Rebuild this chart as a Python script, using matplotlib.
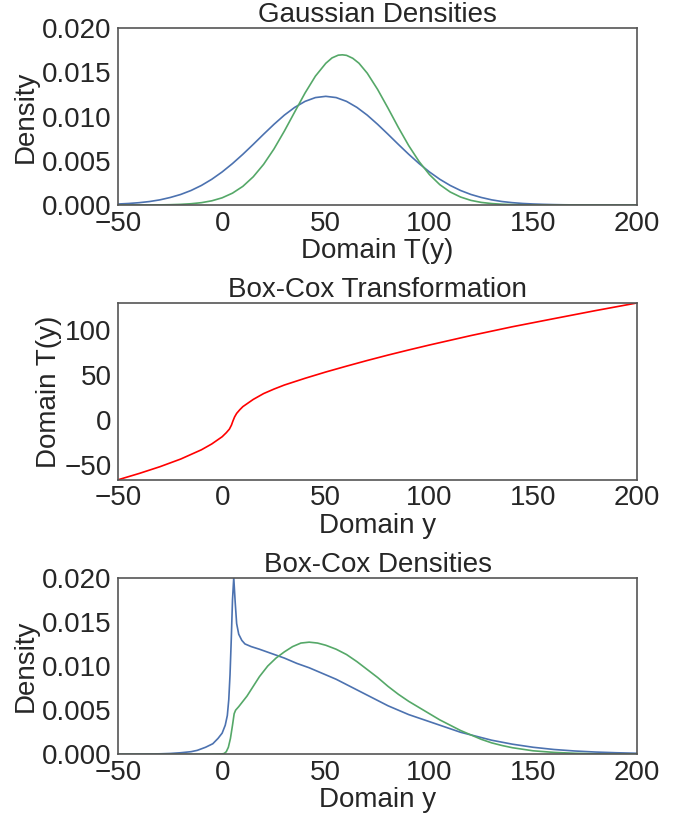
import matplotlib
matplotlib.use("Agg")
import matplotlib.pyplot as plt

# top panel: Gaussian densities in the transformed domain T(y)
t_grid = [-50, -45, -40, -35, -30, -25, -20, -15, -10, -5, 0, 5, 10, 15, 20,
          25, 30, 35, 40, 45, 50, 55, 60, 65, 70, 75, 80, 85, 90, 95, 100,
          105, 110, 115, 120, 125, 130, 135, 140, 145, 150, 155, 160, 165,
          170, 175, 180, 185, 190, 195, 200]
gauss_blue = [0.00011, 0.00017, 0.00026, 0.00039, 0.00058, 0.00085, 0.00119,
              0.00164, 0.00221, 0.00291, 0.00374, 0.00469, 0.00574, 0.00686,
              0.00801, 0.00913, 0.01017, 0.01105, 0.01173, 0.01216, 0.0123,
              0.01216, 0.01173, 0.01105, 0.01017, 0.00913, 0.00801, 0.00686,
              0.00574, 0.00469, 0.00374, 0.00291, 0.00221, 0.00164, 0.00119,
              0.00085, 0.00058, 0.00039, 0.00026, 0.00017, 0.00011, 0.00007,
              0.00004, 0.00002, 0.00001, 0.0, 0.0, 0.0, 0.0, 0.0, 0.0]
t_green = [-50, -35, -30, -25, -20, -15, -10, -5, 0, 5, 10, 15, 20, 25, 30,
           35, 40, 45, 50, 53, 56, 58, 60, 63, 66, 70, 75, 80, 85, 90, 95,
           100, 105, 110, 115, 120, 125, 130, 135, 140, 145, 150, 155, 200]
gauss_green = [0.0, 0.0, 0.00001, 0.00003, 0.00007, 0.00014, 0.00026, 0.00047,
               0.00081, 0.00134, 0.00211, 0.00319, 0.0046, 0.00634, 0.00836,
               0.01053, 0.01268, 0.01459, 0.01604, 0.01665, 0.01696, 0.0170,
               0.01694, 0.01661, 0.01605, 0.01492, 0.01308, 0.01097, 0.00878,
               0.00672, 0.00492, 0.00344, 0.0023, 0.00147, 0.0009, 0.00052,
               0.00029, 0.00016, 0.00008, 0.00004, 0.00002, 0.00001, 0.0, 0.0]

# middle panel: the Box-Cox style warping T(y)
y_warp = [-50, -40, -30, -20, -10, -5, 0, 2, 3.5, 4.5, 5.2, 6, 7, 8.5, 10,
          15, 20, 25, 30, 40, 50, 60, 70, 80, 90, 100, 120, 140, 160, 180, 200]
t_warp = [-66.7, -59.8, -52.3, -43.8, -33.5, -27.0, -19.0, -14.5, -10.5,
          -6.0, -1.5, 3.0, 7.0, 11.0, 14.5, 22.5, 29.0, 34.0, 38.5, 46.0,
          53.0, 59.5, 65.8, 71.8, 77.5, 83.0, 93.5, 103.3, 112.3, 121.2, 129.7]

# bottom panel: the same densities pulled back to the original domain y
y_blue = [-50, -40, -30, -25, -20, -15, -12, -8, -4.5, -2, 0, 1.5, 2.5, 3.2,
          3.8, 4.4, 5.0, 5.6, 6.3, 7.0, 8.0, 9.5, 11, 14, 18, 24, 30, 36, 42,
          50, 55, 60, 65, 70, 75, 80, 85, 90, 95, 100, 105, 110, 115, 120,
          130, 140, 150, 160, 170, 180, 190, 200]
dens_blue = [0.00001, 0.00002, 0.00006, 0.0001, 0.00018, 0.0003, 0.00045,
             0.0008, 0.0012, 0.0018, 0.0024, 0.0033, 0.0044, 0.0062, 0.009,
             0.013, 0.0175, 0.02, 0.0172, 0.0148, 0.0136, 0.0129, 0.0125,
             0.0122, 0.0119, 0.0114, 0.0109, 0.0103, 0.0098, 0.009, 0.0085,
             0.0079, 0.0073, 0.0067, 0.0061, 0.0055, 0.005, 0.0045, 0.0041,
             0.0037, 0.0033, 0.0029, 0.0025, 0.0022, 0.0016, 0.00115,
             0.0008, 0.00055, 0.00038, 0.00026, 0.00018, 0.00012]
y_green = [-50, -20, -10, -5, 0, 1, 2, 3, 4, 5, 5.8, 6.5, 8, 10, 12, 15, 18,
           22, 26, 30, 34, 38, 42, 46, 50, 55, 60, 65, 70, 75, 80, 85, 90, 95,
           100, 105, 110, 115, 120, 125, 130, 135, 140, 150, 160, 170, 180,
           190, 200]
dens_green = [0.0, 0.0, 0.0, 0.00001, 0.00005, 0.0001, 0.0003, 0.0008, 0.0018,
              0.0033, 0.0046, 0.005, 0.0054, 0.006, 0.0066, 0.0077, 0.0088,
              0.01, 0.0109, 0.0116, 0.0122, 0.0126, 0.0127, 0.0126, 0.01235,
              0.0119, 0.0113, 0.0105, 0.0096, 0.0087, 0.0077, 0.0068, 0.006,
              0.0053, 0.0046, 0.0039, 0.0033, 0.0027, 0.0022, 0.0017, 0.0013,
              0.001, 0.00075, 0.0004, 0.00022, 0.00012, 0.00006, 0.00003,
              0.00002]

x_ticks = [-50, 0, 50, 100, 150, 200]
dens_ticks = [0.000, 0.005, 0.010, 0.015, 0.020]
warp_ticks = [-50, 0, 50, 100]

BLUE = "#4C72B0"
GREEN = "#55A868"
TEXT = "#262626"

plt.rcParams["font.family"] = ["Liberation Sans", "DejaVu Sans"]
plt.rcParams["font.size"] = 20
plt.rcParams["axes.titlesize"] = 20
plt.rcParams["axes.labelsize"] = 20
plt.rcParams["text.color"] = TEXT
plt.rcParams["axes.labelcolor"] = TEXT
plt.rcParams["xtick.color"] = TEXT
plt.rcParams["ytick.color"] = TEXT
plt.rcParams["xtick.major.size"] = 0
plt.rcParams["ytick.major.size"] = 0
plt.rcParams["xtick.major.pad"] = 4
plt.rcParams["ytick.major.pad"] = 5
plt.rcParams["axes.edgecolor"] = "#555555"
plt.rcParams["axes.linewidth"] = 1.2

fig, axes = plt.subplots(3, 1, figsize=(6.81, 8.21), dpi=100)
fig.subplots_adjust(left=0.174, right=0.935, top=0.9655, bottom=0.0812,
                    hspace=0.555)

ax = axes[0]
ax.plot(t_grid, gauss_blue, color=BLUE, lw=1.2)
ax.plot(t_green, gauss_green, color=GREEN, lw=1.2)
ax.set_xlim(-50, 200)
ax.set_ylim(0, 0.02)
ax.set_yticks(dens_ticks)
ax.set_yticklabels([f"{v:.3f}" for v in dens_ticks])
ax.set_xticks(x_ticks)
ax.set_title("Gaussian Densities", pad=2)
ax.set_xlabel("Domain T(y)", labelpad=1)
ax.set_ylabel("Density", labelpad=2)

ax = axes[1]
ax.plot(y_warp, t_warp, color="red", lw=1.2)
ax.set_xlim(-50, 200)
ax.set_ylim(t_warp[0], t_warp[-1])
ax.set_xticks(x_ticks)
ax.set_yticks(warp_ticks)
ax.set_title("Box-Cox Transformation", pad=2)
ax.set_xlabel("Domain y", labelpad=1)
ax.set_ylabel("Domain T(y)", labelpad=2)

ax = axes[2]
ax.plot(y_blue, dens_blue, color=BLUE, lw=1.2)
ax.plot(y_green, dens_green, color=GREEN, lw=1.2)
ax.set_xlim(-50, 200)
ax.set_ylim(0, 0.02)
ax.set_yticks(dens_ticks)
ax.set_yticklabels([f"{v:.3f}" for v in dens_ticks])
ax.set_xticks(x_ticks)
ax.set_title("Box-Cox Densities", pad=2)
ax.set_xlabel("Domain y", labelpad=1)
ax.set_ylabel("Density", labelpad=2)

fig.savefig("out.png", dpi=100)
